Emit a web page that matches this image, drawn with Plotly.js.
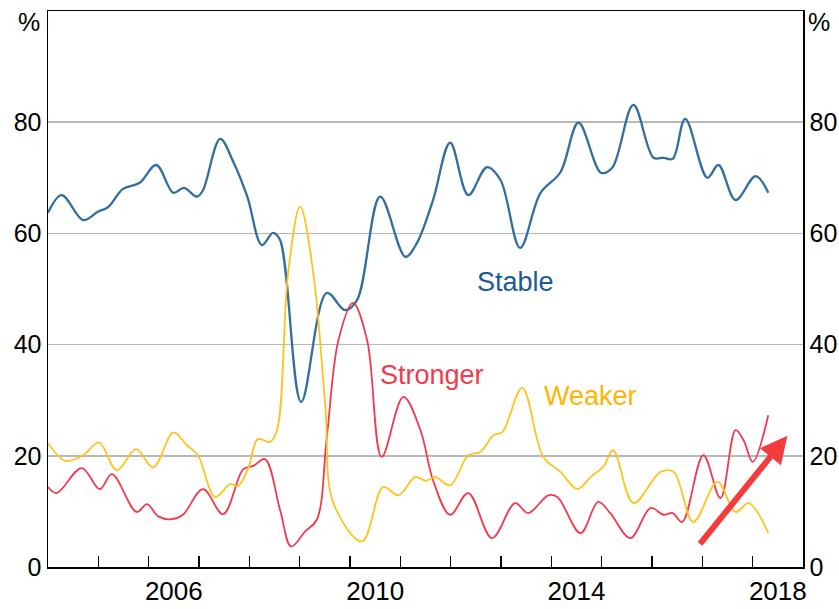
<!DOCTYPE html>
<html>
<head>
<meta charset="utf-8">
<script src="https://cdn.plot.ly/plotly-3.0.1.min.js"></script>
<style>html,body{margin:0;padding:0;background:#fff;}#chart{width:839px;height:609px;}</style>
</head>
<body>
<div id="chart"></div>
<script>
// Dates as decimal years
const stableX = [2004.00,2004.27,2004.70,2004.99,2005.19,2005.49,2005.82,2006.15,2006.49,2006.70,2006.96,2007.08,2007.42,2007.68,2007.96,2008.25,2008.47,2008.61,2009.03,2009.54,2009.90,2010.14,2010.60,2011.10,2011.33,2011.65,2011.99,2012.35,2012.72,2012.99,2013.38,2013.78,2014.18,2014.54,2014.99,2015.21,2015.63,2016.03,2016.23,2016.41,2016.66,2017.10,2017.32,2017.66,2018.06,2018.31];
const stableY = [63.7,66.9,62.4,63.9,64.7,68.0,69.1,72.3,67.3,68.2,66.6,67.8,77.0,72.9,66.6,57.9,60.1,58.8,29.7,49.3,46.2,48.0,66.6,55.8,58.3,66.0,76.3,66.9,71.9,69.6,57.4,67.2,71.0,79.9,70.9,71.8,83.1,73.6,73.6,73.4,80.6,70.0,72.3,66.0,70.3,67.3];

const strongerX = [2004.00,2004.17,2004.67,2005.03,2005.27,2005.76,2005.97,2006.19,2006.46,2006.68,2007.08,2007.48,2007.88,2008.08,2008.31,2008.61,2008.83,2009.11,2009.34,2009.54,2009.77,2010.06,2010.34,2010.63,2011.06,2011.40,2011.65,2011.99,2012.35,2012.82,2013.28,2013.54,2013.94,2014.12,2014.58,2014.93,2015.17,2015.57,2015.97,2016.23,2016.41,2016.60,2017.02,2017.36,2017.66,2017.82,2018.00,2018.31];
const strongerY = [14.4,13.3,17.8,14.0,16.7,9.9,11.3,9.1,8.6,9.4,14.0,9.5,17.6,18.2,19.4,10.3,3.7,6.4,8.5,23.4,40.8,47.5,40.8,19.8,30.6,24.6,15.6,9.4,13.3,5.2,11.5,9.7,12.9,12.6,6.1,11.7,9.7,5.2,10.6,9.4,9.7,8.1,20.1,12.4,24.6,22.8,18.9,27.3];

const weakerX = [2004.00,2004.34,2004.70,2005.01,2005.37,2005.75,2006.09,2006.49,2006.76,2006.98,2007.32,2007.62,2007.78,2007.98,2008.17,2008.41,2008.55,2008.77,2009.01,2009.27,2009.51,2009.67,2010.24,2010.66,2010.96,2011.30,2011.50,2011.69,2011.99,2012.35,2012.59,2012.85,2013.03,2013.42,2013.84,2014.18,2014.52,2014.78,2015.03,2015.23,2015.63,2016.17,2016.43,2016.82,2017.30,2017.66,2017.92,2018.31];
const weakerY = [22.3,19.1,20.1,22.4,17.4,21.2,17.9,24.2,21.9,20.1,12.6,14.9,14.6,17.8,23.0,22.5,24.6,52.9,64.8,52.9,28.8,11.5,4.6,14.4,12.9,16.2,15.5,16.2,14.7,20.1,20.7,23.7,24.3,32.2,19.8,17.1,14.0,16.2,18.0,21.0,11.5,17.1,17.1,8.1,15.3,9.9,11.5,6.1];

const yTicks = [0,20,40,60,80];
const xLabelPos = [2006.5,2010.5,2014.5,2018.5];
const xLabels = ['2006','2010','2014','2018'];
const yearTicks = [2005,2006,2007,2008,2009,2010,2011,2012,2013,2014,2015,2016,2017,2018];

const FONT = 'Liberation Sans, Arial, sans-serif';
const traces = [
  {x: stableX, y: stableY, type:'scatter', mode:'lines', line:{color:'#336ea0', width:2.3, shape:'spline', smoothing:1}, hoverinfo:'skip'},
  {x: weakerX, y: weakerY, type:'scatter', mode:'lines', line:{color:'#ffc31f', width:1.8, shape:'spline', smoothing:1}, yaxis:'y2', hoverinfo:'skip'},
  {x: strongerX, y: strongerY, type:'scatter', mode:'lines', line:{color:'#f23a4d', width:1.8, shape:'spline', smoothing:1}, hoverinfo:'skip'}
];

const layout = {
  width: 839, height: 609,
  margin: {l:48, r:36, t:11, b:42},
  paper_bgcolor:'#fff', plot_bgcolor:'#fff',
  showlegend:false,
  font:{family:FONT, size:25, color:'#000'},
  xaxis:{
    range:[2004,2019], tickmode:'array', tickvals:xLabelPos, ticktext:xLabels,
    ticks:'', showgrid:false, zeroline:false,
    showline:true, mirror:true, linecolor:'#000', linewidth:1.5,
    tickfont:{family:FONT, size:26, color:'#000'},
    minor:{tickmode:'array', tickvals:yearTicks, ticks:'inside', ticklen:11, tickwidth:1.5, tickcolor:'#000', showgrid:false}
  },
  yaxis:{
    range:[0,100], tickmode:'array', tickvals:yTicks, ticks:'', ticklen:0,
    showgrid:true, gridcolor:'#b8b8b8', gridwidth:1.5, zeroline:false,
    showline:true, linecolor:'#000', linewidth:1.5,
    tickfont:{family:FONT, size:25, color:'#000'}
  },
  yaxis2:{
    range:[0,100], overlaying:'y', side:'right', tickmode:'array', tickvals:yTicks, ticks:'',
    showgrid:false, zeroline:false, showline:true, linecolor:'#000', linewidth:1.5,
    tickfont:{family:FONT, size:25, color:'#000'}
  },
  annotations:[
    {text:'%', xref:'paper', yref:'paper', x:0, y:1, xanchor:'right', yanchor:'middle', xshift:-6, yshift:-11, showarrow:false, font:{family:FONT,size:25,color:'#000'}},
    {text:'%', xref:'paper', yref:'paper', x:1, y:1, xanchor:'left', yanchor:'middle', xshift:3, yshift:-11, showarrow:false, font:{family:FONT,size:25,color:'#000'}},
    {text:'Stable', xref:'x', yref:'y', x:2013.28, y:51.3, showarrow:false, font:{family:FONT,size:27,color:'#1b5a93'}},
    {text:'Stronger', xref:'x', yref:'y', x:2011.63, y:34.5, showarrow:false, font:{family:FONT,size:27,color:'#f23a4d'}},
    {text:'Weaker', xref:'x', yref:'y', x:2014.77, y:30.8, showarrow:false, font:{family:FONT,size:27,color:'#ffb400'}},
    {text:'', xref:'x', yref:'y', axref:'x', ayref:'y', x:2018.69, y:23.6, ax:2016.93, ay:3.9, showarrow:true, arrowhead:2, arrowsize:0.9, arrowwidth:6, arrowcolor:'#f53b3b', standoff:0}
  ]
};

Plotly.newPlot('chart', traces, layout, {staticPlot:true, displayModeBar:false});
</script>
</body>
</html>
